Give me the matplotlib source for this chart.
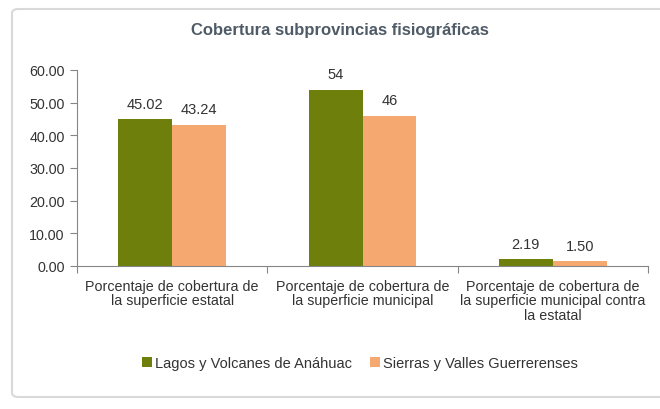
import matplotlib
matplotlib.use("Agg")
import numpy as np
from matplotlib import pyplot as plt
from matplotlib.patches import FancyBboxPatch

title = "Cobertura subprovincias fisiográficas"
categories = ["Porcentaje de cobertura de\nla superficie estatal",
              "Porcentaje de cobertura de\nla superficie municipal",
              "Porcentaje de cobertura de\nla superficie municipal contra\nla estatal"]
series_names = ["Lagos y Volcanes de Anáhuac", "Sierras y Valles Guerrerenses"]
lagos = [45.02, 54, 2.19]
sierras = [43.24, 46, 1.50]
lagos_labels = ["45.02", "54", "2.19"]
sierras_labels = ["43.24", "46", "1.50"]
yticks = [0, 10, 20, 30, 40, 50, 60]

green = "#6f7f0c"
orange = "#f5a86f"
txt = "#333333"

plt.rcParams['font.family'] = ['Liberation Sans', 'DejaVu Sans']

fig = plt.figure(figsize=(6.6, 4.1), dpi=100)
fig.patches.append(FancyBboxPatch((12 / 660, 12 / 410), 660, 388 / 410,
                                  boxstyle="round,pad=0,rounding_size=0.01",
                                  transform=fig.transFigure, facecolor="white",
                                  edgecolor="#d9d9d9", linewidth=1.5, zorder=-5))

ax = fig.add_axes([77 / 660, 1 - 267 / 410, (648 - 77) / 660, (267 - 71) / 410])
ax.patch.set_alpha(0)

x = np.arange(len(categories))
w = 0.283
b1 = ax.bar(x - w / 2, lagos, w, color=green, label=series_names[0])
b2 = ax.bar(x + w / 2, sierras, w, color=orange, label=series_names[1])
for bars, labs in ((b1, lagos_labels), (b2, sierras_labels)):
    for r, s in zip(bars, labs):
        ax.annotate(s, (r.get_x() + r.get_width() / 2, r.get_height()),
                    xytext=(0, 6), textcoords="offset points",
                    ha="center", va="bottom", fontsize=10.5, color=txt)

ax.set_ylim(0, 60)
ax.set_yticks(yticks)
ax.set_yticklabels([f"{v:.2f}" for v in yticks], fontsize=10.3, color=txt)
ax.set_xlim(-0.5, 2.5)
ax.set_xticks([-0.5, 0.5, 1.5, 2.5])
ax.set_xticklabels([])
ax.set_xticks(x, minor=True)
ax.set_xticklabels(categories, minor=True, fontsize=10.3, color=txt, linespacing=1.05)
ax.tick_params(axis="x", which="minor", length=0, pad=9)
ax.tick_params(axis="x", which="major", length=5, color="#868686", direction="out")
ax.tick_params(axis="y", length=5, color="#868686", direction="out", pad=4)

for side in ("top", "right"):
    ax.spines[side].set_visible(False)
for side in ("left", "bottom"):
    ax.spines[side].set_color("#868686")

fig.text(0.515, 1 - 30 / 410, title, ha="center", va="center",
         fontsize=12, fontweight="bold", color="#4f5b66")

fig.legend(handles=[b1, b2], loc="center", bbox_to_anchor=(0.545, 1 - 364 / 410),
           ncol=2, frameon=False, fontsize=10.5, handlelength=0.7, handleheight=0.7,
           handletextpad=0.2, columnspacing=1.2, labelcolor=txt)

fig.savefig("out.png", dpi=100)
